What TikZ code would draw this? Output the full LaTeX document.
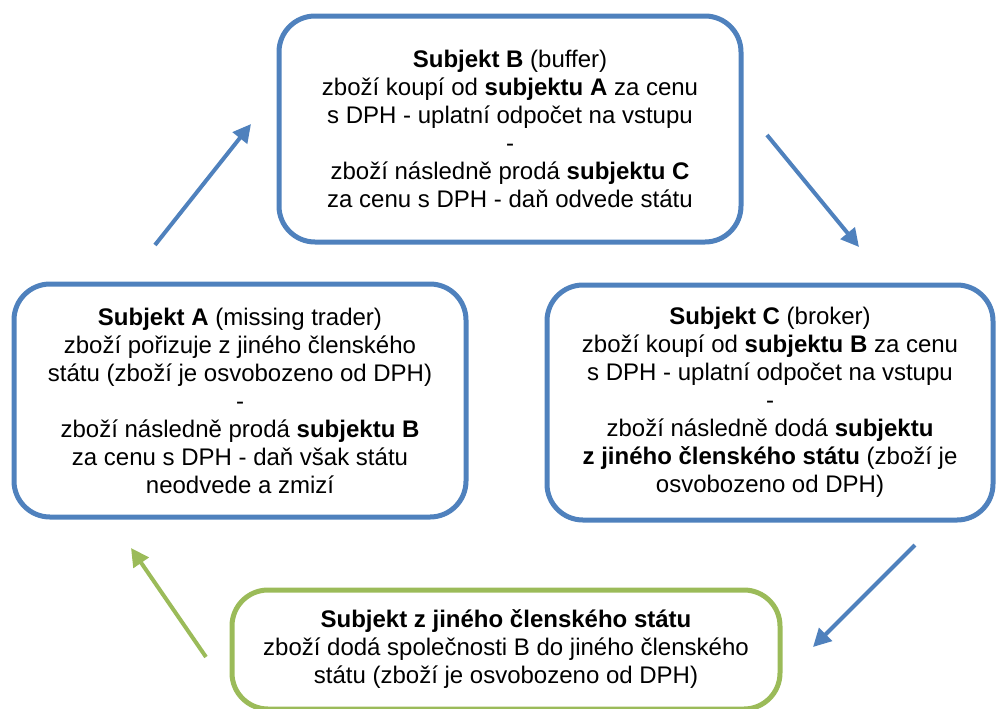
\documentclass[tikz,border=0pt]{standalone}
\usepackage{xcolor}
\usepackage{fontspec}
\setmainfont{Liberation Sans}
\usetikzlibrary{arrows.meta}

\definecolor{subjblue}{HTML}{4F81BD}
\definecolor{subjgreen}{HTML}{9BBB59}

\begin{document}
\begin{tikzpicture}[x=0.5pt, y=-0.5pt,
  subj/.style = {draw=subjblue, line width=2.5pt, rounded corners=18pt,
                 align=center, inner sep=0pt,
                 font=\fontsize{12}{14}\selectfont},
  flow/.style = {-{Triangle[length=9pt,width=9pt]}, line width=2pt, draw=subjblue}]

\useasboundingbox (0,0) rectangle (997,708);

\node (sB) at (510,129) [subj, minimum width=231pt, minimum height=113pt]
  {\textbf{Subjekt B} (buffer)\\
   zboží koupí od \textbf{subjektu A} za cenu\\
   s DPH - uplatní odpočet na vstupu\\
   -\\
   zboží následně prodá \textbf{subjektu C}\\
   za cenu s DPH - daň odvede státu};

\node (sA) at (240,400.5) [subj, minimum width=226pt, minimum height=116.5pt]
  {\textbf{Subjekt A} (missing trader)\\
   zboží pořizuje z jiného členského\\
   státu (zboží je osvobozeno od DPH)\\
   -\\
   zboží následně prodá \textbf{subjektu B}\\
   za cenu s DPH - daň však státu\\
   neodvede a zmizí};

\node (sC) at (770,402.5) [subj, minimum width=223pt, minimum height=117.5pt]
  {\textbf{Subjekt C} (broker)\\
   zboží koupí od \textbf{subjektu B} za cenu\\
   s DPH - uplatní odpočet na vstupu\\
   -\\
   zboží následně dodá \textbf{subjektu}\\
   \textbf{z jiného členského státu} (zboží je\\
   osvobozeno od DPH)};

\node (sZ) at (506,649.5) [subj, draw=subjgreen, minimum width=274pt, minimum height=59.5pt]
  {\textbf{Subjekt z jiného členského státu}\\
   zboží dodá společnosti B do jiného členského\\
   státu (zboží je osvobozeno od DPH)};

% arrow ends
\coordinate (aAB1) at (155,245);
\coordinate (aAB2) at (251,124);
\coordinate (aBC1) at (767,135);
\coordinate (aBC2) at (859,247);
\coordinate (aCZ1) at (915,545);
\coordinate (aCZ2) at (813,647);
\coordinate (aZA1) at (206,657);
\coordinate (aZA2) at (131,548);

\draw [flow] (aAB1) -- (aAB2);
\draw [flow] (aBC1) -- (aBC2);
\draw [flow] (aCZ1) -- (aCZ2);
\draw [flow, draw=subjgreen] (aZA1) -- (aZA2);

\end{tikzpicture}
\end{document}
